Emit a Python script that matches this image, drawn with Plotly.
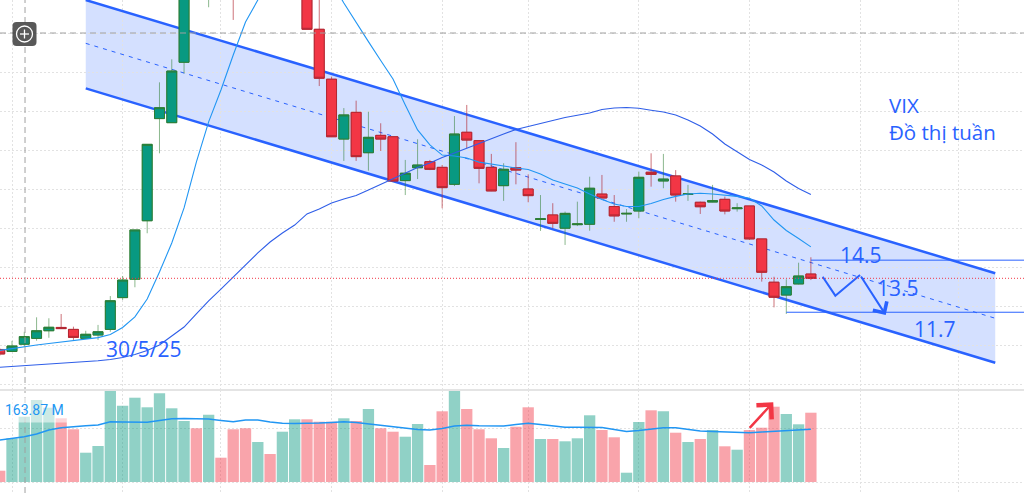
import numpy as np
import pandas as pd
import plotly.graph_objects as go

# Đồ thị tuần VIX - mỗi nến là một tuần (ngày thứ Hai đầu tuần)
first_week = pd.Timestamp("2025-03-24")

opens = [9.77, 9.67, 10.04, 10.34, 10.73, 10.90, 10.80, 10.34, 10.51, 10.80,
         12.43, 13.37, 16.37, 21.61, 21.40, 24.50, 31.00, 29.50, 34.00, 31.50,
         29.50, 28.40, 32.00, 30.50, 35.50, 38.50, 26.19, 23.63, 20.56, 21.93,
         19.86, 20.75, 20.68, 18.43, 19.09, 19.40, 19.11, 18.24, 20.91, 20.48,
         19.11, 18.17, 19.09, 18.00, 16.44, 16.67, 15.99, 16.17, 16.19, 17.74,
         17.10, 16.72, 16.87, 18.86, 18.41, 18.67, 17.72, 17.32, 17.33, 17.47,
         16.99, 17.13, 15.44, 13.22, 12.56, 13.13, 13.64]
highs = [9.85, 10.21, 10.68, 11.42, 11.37, 11.59, 10.94, 10.73, 11.03, 12.51,
         13.54, 15.90, 20.29, 23.47, 24.65, 32.00, 33.00, 35.00, 36.00, 32.50,
         31.00, 33.00, 34.00, 36.50, 40.00, 39.50, 28.40, 23.76, 22.15, 22.53,
         21.96, 21.37, 20.70, 19.49, 20.55, 19.49, 19.23, 21.74, 22.31, 20.48,
         19.80, 19.32, 20.40, 18.75, 17.69, 17.27, 16.84, 17.35, 18.63, 18.72,
         17.69, 16.97, 18.89, 19.83, 19.80, 18.97, 18.21, 17.35, 18.21, 17.61,
         17.27, 17.13, 15.44, 13.50, 13.37, 14.22, 14.50]
lows = [9.44, 9.64, 9.91, 10.22, 10.37, 10.82, 10.26, 10.31, 10.26, 10.68,
        12.31, 12.96, 15.73, 19.83, 21.40, 23.93, 28.50, 27.32, 30.50, 26.67,
        28.00, 28.00, 29.50, 30.00, 34.50, 26.19, 23.28, 20.67, 19.44, 19.44,
        18.94, 19.95, 18.40, 17.69, 18.51, 18.97, 17.01, 18.15, 20.09, 18.29,
        17.89, 17.39, 18.24, 17.32, 15.85, 15.99, 15.13, 16.10, 15.86, 17.53,
        16.32, 16.32, 16.50, 18.12, 18.04, 17.35, 17.39, 16.72, 17.32, 16.70,
        16.84, 15.39, 13.25, 11.93, 11.59, 13.11, 13.33]
closes = [9.54, 9.95, 10.43, 10.73, 10.91, 10.84, 10.39, 10.55, 10.68, 12.27,
          13.33, 15.90, 20.29, 22.17, 24.05, 31.00, 29.50, 34.00, 31.50, 28.20,
          28.40, 32.00, 30.50, 35.50, 38.50, 26.19, 23.68, 20.68, 21.80, 19.66,
          20.65, 20.56, 18.41, 18.81, 19.23, 19.01, 18.07, 20.82, 20.51, 19.06,
          17.90, 19.01, 18.97, 17.66, 16.47, 16.24, 16.75, 16.21, 18.04, 17.54,
          16.62, 16.75, 18.60, 18.75, 18.51, 17.69, 17.75, 17.09, 17.40, 16.87,
          17.03, 15.44, 13.73, 12.45, 12.99, 13.54, 13.42]

# khối lượng (triệu cp)
volumes = [35.0, 135.5, 202.4, 254.2, 230.3, 197.5, 163.4, 90.8, 111.6, 282.1,
           236.5, 261.3, 231.6, 275.0, 228.5, 189.1, 166.5, 208.6, 75.3, 163.4,
           166.5, 124.0, 86.8, 155.9, 194.4, 194.4, 186.9, 186.9, 197.5, 189.1,
           226.3, 166.5, 155.9, 140.4, 179.8, 52.7, 219.2, 283.0, 226.3, 163.4,
           135.5, 105.4, 171.4, 231.6, 133.3, 133.3, 126.2, 135.5, 206.8, 161.2,
           138.6, 28.8, 186.0, 222.3, 219.2, 152.8, 124.0, 133.3, 161.2, 110.7,
           100.1, 161.2, 168.3, 233.4, 210.8, 178.9, 214.8]

ma_fast = [9.72, 9.82, 9.91, 10.00, 10.08, 10.15, 10.24, 10.31, 10.38, 10.54,
           10.90, 11.44, 12.36, 13.74, 15.23, 17.03, 19.38, 21.44, 23.08, 24.87,
           26.56, 27.69, 29.00, 30.20, 30.60, 30.50, 29.80, 28.60, 27.54, 26.53,
           25.56, 24.59, 23.64, 22.31, 21.03, 20.26, 19.74, 19.69, 19.59, 19.38,
           19.28, 19.15, 19.08, 19.00, 18.77, 18.46, 18.26, 18.05, 17.74, 17.46,
           17.23, 17.10, 17.10, 17.26, 17.46, 17.62, 17.74, 17.78, 17.74, 17.69,
           17.62, 17.53, 17.13, 16.41, 15.87, 15.46, 15.03]
ma_slow = [8.86, 8.90, 8.94, 8.97, 9.03, 9.08, 9.11, 9.15, 9.19, 9.26,
           9.36, 9.51, 9.72, 10.00, 10.44, 10.92, 11.59, 12.26, 12.87, 13.49,
           14.10, 14.72, 15.28, 15.74, 16.15, 16.72, 16.97, 17.28, 17.49, 17.67,
           17.95, 18.23, 18.51, 18.82, 19.10, 19.33, 19.62, 19.85, 20.10, 20.36,
           20.59, 20.82, 21.05, 21.21, 21.38, 21.54, 21.67, 21.78, 21.90, 22.08,
           22.15, 22.18, 22.14, 22.04, 21.95, 21.79, 21.54, 21.23, 20.82, 20.31,
           19.90, 19.51, 19.23, 18.87, 18.41, 18.03, 17.72]
vol_ma = [130.2, 134.9, 140.4, 148.8, 161.2, 168.3, 172.1, 174.2, 176.7, 186.9,
          186.0, 184.5, 185.1, 190.7, 195.9, 196.9, 195.9, 195.3, 190.7, 186.9,
          192.2, 192.2, 186.0, 182.0, 181.4, 181.4, 182.9, 184.5, 186.9, 184.5,
          179.8, 176.7, 172.1, 167.4, 162.8, 161.2, 165.9, 173.6, 175.8, 174.2,
          173.6, 173.6, 178.3, 182.0, 178.3, 173.6, 169.6, 169.6, 169.6, 169.0,
          162.8, 156.6, 159.7, 164.3, 168.3, 168.0, 162.8, 158.1, 156.6, 155.0,
          153.5, 152.8, 155.0, 157.2, 159.7, 161.2, 163.87]

# kênh giá giảm (tuần, giá)
channel_weeks = [8, 82]
channel_top = [27.69, 13.68]
channel_mid = [25.47, 11.37]
channel_bot = [23.16, 9.09]

# các mức cản / hỗ trợ
level_weeks = [67, 65]
levels = [14.35, 11.68]

label_texts = ["14.5", "13.5", "11.7"]
label_weeks = [71.08, 74.05, 77.06]
label_prices = [14.64, 12.92, 10.81]

zigzag_weeks = [67.96, 68.99, 71.0]
zigzag_prices = [13.50, 12.53, 13.59]
arrow_tip_week, arrow_tip_price = 73.09, 11.54

vol_arrow_weeks = [61.91, 63.94]
vol_arrow_values = [163.4, 247.1]

grid_weeks = [2, 11, 19, 28, 37, 44, 53, 62, 71, 79]


def wk(i):
    return first_week + pd.Timedelta(days=7 * (i - 1))


def day(i):
    return wk(i).strftime("%Y-%m-%d")


n = len(closes)
dates = [wk(i) for i in range(1, n + 1)]
up = np.array(closes) >= np.array(opens)
body_hi = np.maximum(opens, closes)
body_lo = np.minimum(opens, closes)

BLUE = "#2962ff"
GREEN = "#089981"
RED = "#f23645"
W, H = 1024, 493
split = 103 / H  # ranh giới giữa khung giá và khung khối lượng

fig = go.Figure()

# bóng nến (nhạt) rồi thân nến
fig.add_trace(go.Candlestick(
    x=dates, open=opens, high=highs, low=lows, close=closes,
    increasing=dict(line=dict(color="rgba(46,125,50,0.55)", width=1), fillcolor=GREEN),
    decreasing=dict(line=dict(color="rgba(178,40,51,0.65)", width=1), fillcolor=RED),
    hoverinfo="skip", showlegend=False))
fig.add_trace(go.Candlestick(
    x=dates, open=opens, high=body_hi, low=body_lo, close=closes,
    increasing=dict(line=dict(color="#2e7d32", width=1), fillcolor=GREEN),
    decreasing=dict(line=dict(color="#b22833", width=1), fillcolor=RED),
    hoverinfo="skip", showlegend=False))

# đường trung bình
fig.add_trace(go.Scatter(x=dates, y=ma_fast, mode="lines", line=dict(color="#2196f3", width=1.1),
                         hoverinfo="skip", showlegend=False))
fig.add_trace(go.Scatter(x=dates, y=ma_slow, mode="lines", line=dict(color="#2f5ee8", width=1.1),
                         hoverinfo="skip", showlegend=False))

# kịch bản zigzag
fig.add_trace(go.Scatter(x=[wk(w) for w in zigzag_weeks], y=zigzag_prices, mode="lines",
                         line=dict(color=BLUE, width=2), hoverinfo="skip", showlegend=False))

# khối lượng
fig.add_trace(go.Bar(x=dates, y=volumes, xaxis="x2", yaxis="y2",
                     marker=dict(color=np.where(up, "rgba(8,153,129,0.45)", "rgba(242,54,69,0.45)"),
                                 line=dict(width=0)),
                     hoverinfo="skip", showlegend=False))
fig.add_trace(go.Scatter(x=dates, y=vol_ma, xaxis="x2", yaxis="y2", mode="lines",
                         line=dict(color="#2196f3", width=1.5), hoverinfo="skip", showlegend=False))

grid = dict(showgrid=True, gridcolor="#e2e2e2", gridwidth=1, griddash="2px,2px",
            showticklabels=False, ticks="", zeroline=False, showline=False)
x_range = [wk(1.024), wk(84.34)]
fig.update_layout(
    width=W, height=H, margin=dict(l=0, r=0, t=0, b=0),
    paper_bgcolor="white", plot_bgcolor="white",
    font=dict(family="Open Sans", color=BLUE),
    hovermode=False, boxgap=0.08, boxgroupgap=0.12, bargap=0.08,
    xaxis=dict(type="date", range=x_range, tickvals=[wk(g) for g in grid_weeks],
               rangeslider=dict(visible=False), anchor="y", **grid),
    xaxis2=dict(type="date", range=x_range, tickvals=[wk(g) for g in grid_weeks],
                matches="x", anchor="y2", **grid),
    yaxis=dict(domain=[split, 1], range=[7.6923, 27.6923], tick0=0, dtick=2, **grid),
    yaxis2=dict(domain=[0, split], range=[-34.1, 285.2], tickvals=[0, 167.4], **grid),
)

shapes = []
# nền kênh giá và các cạnh kênh (nằm dưới nến)
d0, d1 = day(channel_weeks[0]), day(channel_weeks[1])
shapes.append(dict(type="path", xref="x", yref="y", layer="below",
                   path=f"M {d0},{channel_top[0]} L {d1},{channel_top[1]} "
                        f"L {d1},{channel_bot[1]} L {d0},{channel_bot[0]} Z",
                   fillcolor="rgba(41,98,255,0.2)", line=dict(width=0)))
for ys, dash, lw in [(channel_top, "solid", 2.5), (channel_bot, "solid", 2.5), (channel_mid, "4px,5px", 1)]:
    shapes.append(dict(type="line", xref="x", yref="y", layer="between",
                       x0=d0, x1=d1, y0=ys[0], y1=ys[1], line=dict(color=BLUE, width=lw, dash=dash)))
# đường giá hiện tại
shapes.append(dict(type="line", xref="paper", yref="y", x0=0, x1=1, y0=closes[-1], y1=closes[-1],
                   line=dict(color=RED, width=1, dash="1px,2px")))
# các mức giá
for w, lv in zip(level_weeks, levels):
    shapes.append(dict(type="line", xref="x", yref="y", x0=wk(w), x1=wk(90), y0=lv, y1=lv,
                       line=dict(color=BLUE, width=1)))
# thước chữ thập
shapes.append(dict(type="line", xref="paper", yref="y", x0=0, x1=1, y0=26, y1=26,
                   line=dict(color="#a0a0a0", width=1, dash="6px,4px")))
shapes.append(dict(type="line", xref="x", yref="paper", x0=wk(3.06), x1=wk(3.06), y0=0, y1=1,
                   line=dict(color="#a0a0a0", width=1, dash="6px,4px")))
# vạch ngăn hai khung
shapes.append(dict(type="line", xref="paper", yref="paper", x0=0, x1=1, y0=split, y1=split,
                   line=dict(color="#e4e4e4", width=2)))


def px(x):
    return x / W


def py(y):
    return 1 - y / H


# nút dấu cộng góc trái
x0, x1, y0, y1, r = 12.5, 36.5, 22, 46, 4
rr = (f"M {px(x0 + r)} {py(y0)} L {px(x1 - r)} {py(y0)} Q {px(x1)} {py(y0)} {px(x1)} {py(y0 + r)} "
      f"L {px(x1)} {py(y1 - r)} Q {px(x1)} {py(y1)} {px(x1 - r)} {py(y1)} "
      f"L {px(x0 + r)} {py(y1)} Q {px(x0)} {py(y1)} {px(x0)} {py(y1 - r)} "
      f"L {px(x0)} {py(y0 + r)} Q {px(x0)} {py(y0)} {px(x0 + r)} {py(y0)} Z")
shapes.append(dict(type="path", xref="paper", yref="paper", path=rr,
                   fillcolor="rgba(70,70,70,0.9)", line=dict(width=0)))
cx, cy = 24.5, 34
shapes.append(dict(type="circle", xref="paper", yref="paper", x0=px(cx - 8), x1=px(cx + 8),
                   y0=py(cy + 8), y1=py(cy - 8), line=dict(color="white", width=1.3)))
shapes.append(dict(type="line", xref="paper", yref="paper", x0=px(cx - 4.5), x1=px(cx + 4.5),
                   y0=py(cy), y1=py(cy), line=dict(color="white", width=1.3)))
shapes.append(dict(type="line", xref="paper", yref="paper", x0=px(cx), x1=px(cx),
                   y0=py(cy - 4.5), y1=py(cy + 4.5), line=dict(color="white", width=1.3)))
fig.update_layout(shapes=shapes)

annotations = []
for t, w, p in zip(label_texts, label_weeks, label_prices):
    annotations.append(dict(x=wk(w), y=p, xref="x", yref="y", text=t, showarrow=False,
                            font=dict(size=21, color=BLUE)))
annotations.append(dict(x=wk(12.66), y=9.78, xref="x", yref="y", text="30/5/25", showarrow=False,
                        font=dict(size=21, color=BLUE)))
annotations.append(dict(x=wk(73.2), y=21.62, xref="x", yref="y", text="VIX<br>Đồ thị tuần",
                        showarrow=False, xanchor="left", align="left",
                        font=dict(size=20.5, color=BLUE)))
# mũi tên kết thúc zigzag
annotations.append(dict(x=wk(arrow_tip_week), y=arrow_tip_price, ax=wk(zigzag_weeks[-1]), ay=zigzag_prices[-1],
                        xref="x", yref="y", axref="x", ayref="y", text="", showarrow=True,
                        arrowhead=4, arrowsize=1.6, arrowwidth=2, arrowcolor=BLUE))
# mũi tên đỏ khối lượng
annotations.append(dict(x=wk(vol_arrow_weeks[1]), y=vol_arrow_values[1], ax=wk(vol_arrow_weeks[0]),
                        ay=vol_arrow_values[0], xref="x2", yref="y2", axref="x2", ayref="y2", text="",
                        showarrow=True, arrowhead=4, arrowsize=1.6, arrowwidth=2.5, arrowcolor=RED))
# nhãn khối lượng
annotations.append(dict(x=0, y=py(397), xref="paper", yref="paper", xanchor="left", yanchor="top",
                        text=f"{vol_ma[-1]:.2f} M", showarrow=False, bgcolor="rgba(255,255,255,0.55)",
                        borderpad=4, font=dict(size=14, color="#2196f3", family="Roboto")))
fig.update_layout(annotations=annotations)

# bỏ lề mặc định của trang để biểu đồ nằm sát góc, ẩn thanh công cụ
fig.write_html("out.html", config={"displayModeBar": False},
               post_script="document.body.style.margin='0px';")
